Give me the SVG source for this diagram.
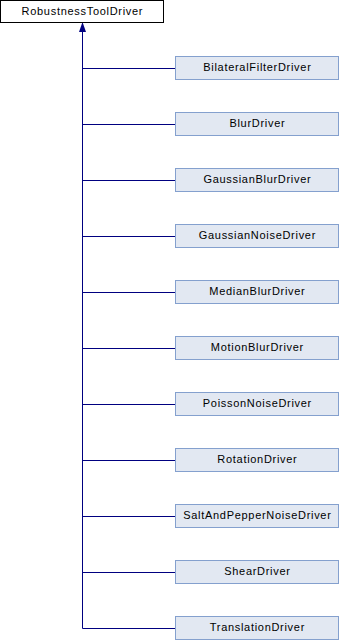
<svg xmlns="http://www.w3.org/2000/svg" width="340" height="640" viewBox="0 0 340 640">
  <style>
    .base rect { fill: #ffffff; stroke: #000000; stroke-width: 1; }
    .cls rect { fill: #e2e8f2; stroke: #84a0ce; stroke-width: 1; }
    text { font-family: "Liberation Sans", Arial, sans-serif; font-size: 11px; letter-spacing: 0.7px; fill: #000000; text-anchor: middle; }
    .edge { fill: none; stroke: #000080; stroke-width: 1; }
  </style>
  <defs>
    <marker id="inh" viewBox="0 0 10 10" refX="0" refY="5" markerWidth="10" markerHeight="10" markerUnits="userSpaceOnUse" orient="auto">
      <path d="M0,1.5 L10,5 L0,8.5 Z" fill="#000080"/>
    </marker>
  </defs>

  <g id="connectors">
    <path class="edge" d="M82.5,628.5 V32" marker-end="url(#inh)"/>
    <path class="edge" d="M82.5,68.5 H175"/>
    <path class="edge" d="M82.5,124.5 H175"/>
    <path class="edge" d="M82.5,180.5 H175"/>
    <path class="edge" d="M82.5,236.5 H175"/>
    <path class="edge" d="M82.5,292.5 H175"/>
    <path class="edge" d="M82.5,348.5 H175"/>
    <path class="edge" d="M82.5,404.5 H175"/>
    <path class="edge" d="M82.5,460.5 H175"/>
    <path class="edge" d="M82.5,516.5 H175"/>
    <path class="edge" d="M82.5,572.5 H175"/>
    <path class="edge" d="M82.5,628.5 H175"/>
  </g>

  <g id="RobustnessToolDriver" class="base">
    <rect x="0.5" y="0.5" width="163" height="22"/>
    <text x="82.4" y="15">RobustnessToolDriver</text>
  </g>

  <g id="BilateralFilterDriver" class="cls">
    <rect x="175.5" y="56.5" width="163" height="23"/>
    <text x="257.4" y="71">BilateralFilterDriver</text>
  </g>
  <g id="BlurDriver" class="cls">
    <rect x="175.5" y="112.5" width="163" height="23"/>
    <text x="257.4" y="127">BlurDriver</text>
  </g>
  <g id="GaussianBlurDriver" class="cls">
    <rect x="175.5" y="168.5" width="163" height="23"/>
    <text x="257.4" y="183">GaussianBlurDriver</text>
  </g>
  <g id="GaussianNoiseDriver" class="cls">
    <rect x="175.5" y="224.5" width="163" height="23"/>
    <text x="257.4" y="239">GaussianNoiseDriver</text>
  </g>
  <g id="MedianBlurDriver" class="cls">
    <rect x="175.5" y="280.5" width="163" height="23"/>
    <text x="257.4" y="295">MedianBlurDriver</text>
  </g>
  <g id="MotionBlurDriver" class="cls">
    <rect x="175.5" y="336.5" width="163" height="23"/>
    <text x="257.4" y="351">MotionBlurDriver</text>
  </g>
  <g id="PoissonNoiseDriver" class="cls">
    <rect x="175.5" y="392.5" width="163" height="23"/>
    <text x="257.4" y="407">PoissonNoiseDriver</text>
  </g>
  <g id="RotationDriver" class="cls">
    <rect x="175.5" y="448.5" width="163" height="23"/>
    <text x="257.4" y="463">RotationDriver</text>
  </g>
  <g id="SaltAndPepperNoiseDriver" class="cls">
    <rect x="175.5" y="504.5" width="163" height="23"/>
    <text x="257.4" y="519">SaltAndPepperNoiseDriver</text>
  </g>
  <g id="ShearDriver" class="cls">
    <rect x="175.5" y="560.5" width="163" height="23"/>
    <text x="257.4" y="575">ShearDriver</text>
  </g>
  <g id="TranslationDriver" class="cls">
    <rect x="175.5" y="616.5" width="163" height="23"/>
    <text x="257.4" y="631">TranslationDriver</text>
  </g>
</svg>
